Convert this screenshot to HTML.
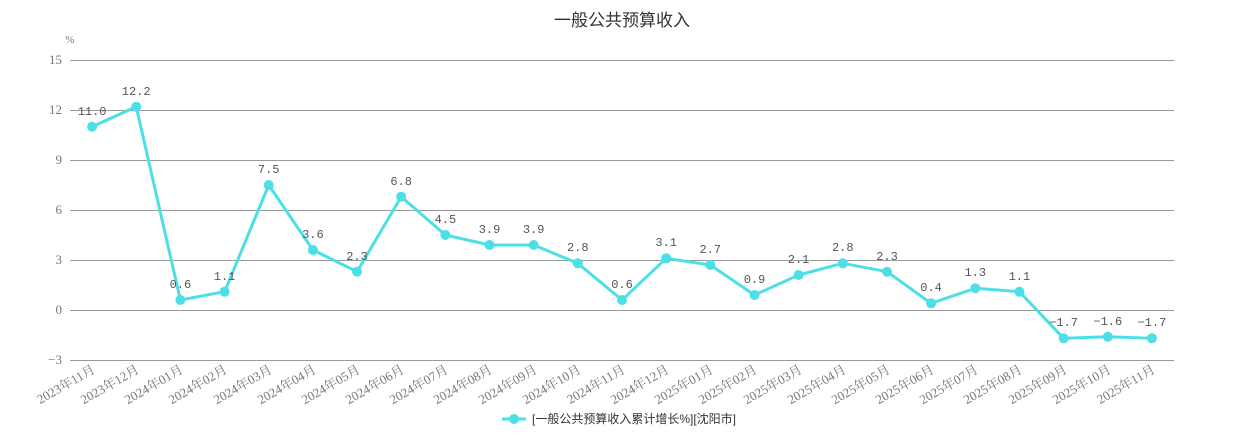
<!DOCTYPE html>
<html><head><meta charset="utf-8"><style>
html,body{margin:0;padding:0;background:#fff;width:1244px;height:440px;overflow:hidden}
svg{display:block}
.ax{font-family:"Liberation Serif","Noto Serif CJK SC",serif;font-size:13px;fill:#777}
.lb{font-family:"Liberation Mono","Noto Sans CJK SC",monospace;font-size:12px;fill:#555;text-anchor:middle}
</style></head><body>
<svg width="1244" height="440" viewBox="0 0 1244 440">
<text x="622" y="26" text-anchor="middle" style="font-family:'Liberation Sans','Noto Sans CJK SC',sans-serif;font-size:17px;fill:#333">一般公共预算收入</text>
<text x="70" y="43" text-anchor="middle" class="ax" style="font-size:11px">%</text>
<g stroke="#999" stroke-width="1">
<line x1="70" x2="1174" y1="60.5" y2="60.5"/><line x1="70" x2="1174" y1="110.5" y2="110.5"/>
<line x1="70" x2="1174" y1="160.5" y2="160.5"/><line x1="70" x2="1174" y1="210.5" y2="210.5"/>
<line x1="70" x2="1174" y1="260.5" y2="260.5"/><line x1="70" x2="1174" y1="310.5" y2="310.5"/>
<line x1="70" x2="1174" y1="360.5" y2="360.5"/>
</g>
<g class="ax" text-anchor="end">
<text x="62" y="64">15</text><text x="62" y="114">12</text><text x="62" y="164">9</text>
<text x="62" y="214">6</text><text x="62" y="264">3</text><text x="62" y="314">0</text><text x="62" y="364">−3</text>
</g>
<g class="ax" text-anchor="end">
<text transform="translate(96,372) rotate(-30)">2023年11月</text>
<text transform="translate(140,372) rotate(-30)">2023年12月</text>
<text transform="translate(184,372) rotate(-30)">2024年01月</text>
<text transform="translate(228,372) rotate(-30)">2024年02月</text>
<text transform="translate(273,372) rotate(-30)">2024年03月</text>
<text transform="translate(317,372) rotate(-30)">2024年04月</text>
<text transform="translate(361,372) rotate(-30)">2024年05月</text>
<text transform="translate(405,372) rotate(-30)">2024年06月</text>
<text transform="translate(449,372) rotate(-30)">2024年07月</text>
<text transform="translate(493,372) rotate(-30)">2024年08月</text>
<text transform="translate(538,372) rotate(-30)">2024年09月</text>
<text transform="translate(582,372) rotate(-30)">2024年10月</text>
<text transform="translate(626,372) rotate(-30)">2024年11月</text>
<text transform="translate(670,372) rotate(-30)">2024年12月</text>
<text transform="translate(714,372) rotate(-30)">2025年01月</text>
<text transform="translate(758,372) rotate(-30)">2025年02月</text>
<text transform="translate(803,372) rotate(-30)">2025年03月</text>
<text transform="translate(847,372) rotate(-30)">2025年04月</text>
<text transform="translate(891,372) rotate(-30)">2025年05月</text>
<text transform="translate(935,372) rotate(-30)">2025年06月</text>
<text transform="translate(979,372) rotate(-30)">2025年07月</text>
<text transform="translate(1023,372) rotate(-30)">2025年08月</text>
<text transform="translate(1068,372) rotate(-30)">2025年09月</text>
<text transform="translate(1112,372) rotate(-30)">2025年10月</text>
<text transform="translate(1156,372) rotate(-30)">2025年11月</text>
</g>
<polyline fill="none" stroke="#4ddfe6" stroke-width="3" stroke-linejoin="round" points="92.1,126.7 136.2,106.7 180.4,300 224.6,291.7 268.7,185 312.9,250 357,271.7 401.2,196.7 445.4,235 489.5,245 533.7,245 577.8,263.3 622,300 666.2,258.3 710.3,265 754.5,295 798.6,275 842.8,263.3 887,271.7 931.1,303.3 975.3,288.3 1019.4,291.7 1063.6,338.3 1107.8,336.7 1151.9,338.3"/>
<g fill="#4ddfe6">
<circle cx="92.1" cy="126.7" r="5"/><circle cx="136.2" cy="106.7" r="5"/><circle cx="180.4" cy="300" r="5"/>
<circle cx="224.6" cy="291.7" r="5"/><circle cx="268.7" cy="185" r="5"/><circle cx="312.9" cy="250" r="5"/>
<circle cx="357" cy="271.7" r="5"/><circle cx="401.2" cy="196.7" r="5"/><circle cx="445.4" cy="235" r="5"/>
<circle cx="489.5" cy="245" r="5"/><circle cx="533.7" cy="245" r="5"/><circle cx="577.8" cy="263.3" r="5"/>
<circle cx="622" cy="300" r="5"/><circle cx="666.2" cy="258.3" r="5"/><circle cx="710.3" cy="265" r="5"/>
<circle cx="754.5" cy="295" r="5"/><circle cx="798.6" cy="275" r="5"/><circle cx="842.8" cy="263.3" r="5"/>
<circle cx="887" cy="271.7" r="5"/><circle cx="931.1" cy="303.3" r="5"/><circle cx="975.3" cy="288.3" r="5"/>
<circle cx="1019.4" cy="291.7" r="5"/><circle cx="1063.6" cy="338.3" r="5"/><circle cx="1107.8" cy="336.7" r="5"/>
<circle cx="1151.9" cy="338.3" r="5"/>
</g>
<g class="lb">
<text x="92.1" y="115">11.0</text><text x="136.2" y="95">12.2</text><text x="180.4" y="288">0.6</text>
<text x="224.6" y="280">1.1</text><text x="268.7" y="173">7.5</text><text x="312.9" y="238">3.6</text>
<text x="357" y="260">2.3</text><text x="401.2" y="185">6.8</text><text x="445.4" y="223">4.5</text>
<text x="489.5" y="233">3.9</text><text x="533.7" y="233">3.9</text><text x="577.8" y="251">2.8</text>
<text x="622" y="288">0.6</text><text x="666.2" y="246">3.1</text><text x="710.3" y="253">2.7</text>
<text x="754.5" y="283">0.9</text><text x="798.6" y="263">2.1</text><text x="842.8" y="251">2.8</text>
<text x="887" y="260">2.3</text><text x="931.1" y="291">0.4</text><text x="975.3" y="276">1.3</text>
<text x="1019.4" y="280">1.1</text><text x="1063.6" y="326">−1.7</text><text x="1107.8" y="325">−1.6</text>
<text x="1151.9" y="326">−1.7</text>
</g>
<line x1="502" x2="526" y1="419" y2="419" stroke="#4ddfe6" stroke-width="3"/>
<circle cx="514" cy="419" r="5" fill="#4ddfe6"/>
<text x="532" y="423" style="font-family:'Liberation Sans','Noto Sans CJK SC',sans-serif;font-size:12px;fill:#333">[一般公共预算收入累计增长%][沈阳市]</text>
</svg>
</body></html>
